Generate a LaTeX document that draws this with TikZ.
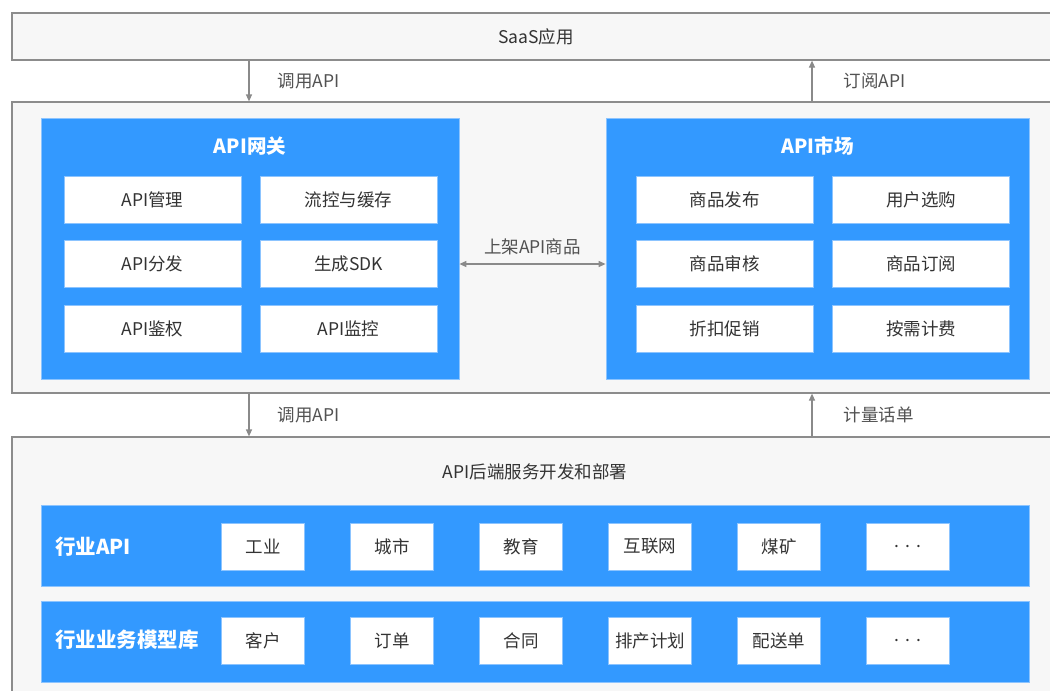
\documentclass[tikz,border=0pt]{standalone}
\usepackage{fontspec}
\setmainfont{Noto Sans CJK SC}
\usepackage{tikz}
\usetikzlibrary{arrows.meta,positioning}

\definecolor{apiblue}{HTML}{3399FF}
\definecolor{edgeblue}{HTML}{8CC4FF}
\definecolor{layerfill}{HTML}{F7F7F7}
\definecolor{layerline}{HTML}{8C8C8C}
\definecolor{arrowgray}{HTML}{8A8A8A}
\definecolor{textgray}{HTML}{333333}

\newcommand{\fsz}[1]{\fontsize{#1}{#1}\selectfont}

\begin{document}
\begin{tikzpicture}[x=1pt,y=-1pt]
    \tikzset{
      layer/.style={draw=layerline,fill=layerfill,line width=1.2pt,minimum width=1048pt,inner sep=0pt},
      bluebox/.style={draw=edgeblue,fill=apiblue,line width=0.8pt,inner sep=0pt},
      cell/.style={draw=edgeblue,fill=white,line width=0.6pt,inner sep=0pt,text=textgray,font=\fsz{17.5}},
      wide cell/.style={cell,minimum width=177pt,minimum height=47pt},
      small cell/.style={cell,minimum width=83pt,minimum height=47pt},
      title/.style={text=white,font=\fsz{19.5}\bfseries,inner sep=0pt},
      flow/.style={draw=arrowgray,line width=1.2pt},
      flowlabel/.style={text=textgray!85,font=\fsz{17.5},inner sep=0pt}
    }
    \clip (0,0) rectangle (1050,691);
    \fill[white] (0,0) rectangle (1050,691);
    % three layers
    \node[layer,minimum height=47pt,text=textgray,font=\fsz{17.5}] (saas) at (536,36.5) {SaaS应用};
    \node[layer,minimum height=291pt] (mid) at (536,247.5) {};
    \node[layer,minimum height=283pt] (back) at (536,578.5) {};
    \node[text=textgray,font=\fsz{17.5},inner sep=0pt] (backtitle) at (535,472) {API后端服务开发和部署};
    % gateway
    \node[bluebox,minimum width=418pt,minimum height=261pt] (gw) at (250,248.5) {};
    \node[title] (gwtitle) at (250,146) {API网关};
    \node[wide cell] (gw1) at (152.5,199.5) {API管理};
    \node[wide cell] (gw2) at (348.5,199.5) {流控与缓存};
    \node[wide cell] (gw3) at (152.5,264) {API分发};
    \node[wide cell] (gw4) at (348.5,264) {生成SDK};
    \node[wide cell] (gw5) at (152.5,328.5) {API鉴权};
    \node[wide cell] (gw6) at (348.5,328.5) {API监控};
    % market
    \node[bluebox,minimum width=423pt,minimum height=261pt] (mk) at (817.5,248.5) {};
    \node[title] (mktitle) at (817.5,146) {API市场};
    \node[wide cell] (mk1) at (724.5,199.5) {商品发布};
    \node[wide cell] (mk2) at (921,199.5) {用户选购};
    \node[wide cell] (mk3) at (724.5,264) {商品审核};
    \node[wide cell] (mk4) at (921,264) {商品订阅};
    \node[wide cell] (mk5) at (724.5,328.5) {折扣促销};
    \node[wide cell] (mk6) at (921,328.5) {按需计费};
    % industry rows
    \node[bluebox,minimum width=988pt,minimum height=81pt] (rowapi) at (535,545.5) {};
    \node[title,font=\fsz{20.5}\bfseries,anchor=west] (rowapilabel) at (55,547) {行业API};
    \node[small cell] (ia1) at (263,546.5) {工业};
    \node[small cell] (ia2) at (392,546.5) {城市};
    \node[small cell] (ia3) at (521,546.5) {教育};
    \node[small cell] (ia4) at (650,546.5) {互联网};
    \node[small cell] (ia5) at (779,546.5) {煤矿};
    \node[small cell] (ia6) at (908,546.5) {.\,\,.\,\,.};
    \node[bluebox,minimum width=988pt,minimum height=81pt] (rowmod) at (535,641.5) {};
    \node[title,font=\fsz{20.5}\bfseries,anchor=west] (rowmodlabel) at (55,640) {行业业务模型库};
    \node[small cell] (im1) at (263,641) {客户};
    \node[small cell] (im2) at (392,641) {订单};
    \node[small cell] (im3) at (521,641) {合同};
    \node[small cell] (im4) at (650,641) {排产计划};
    \node[small cell] (im5) at (779,641) {配送单};
    \node[small cell] (im6) at (908,641) {.\,\,.\,\,.};
    % connectors
    \coordinate (down) at (249,0);
    \coordinate (up) at (812,0);
    \draw[flow,-{Triangle[length=7pt,width=6pt]}] (saas.south -| down) -- (mid.north -| down)
      node[flowlabel,midway,right=28pt] {调用API};
    \draw[flow,-{Triangle[length=7pt,width=6pt]}] (mid.north -| up) -- (saas.south -| up)
      node[flowlabel,midway,right=31pt] {订阅API};
    \draw[flow,-{Triangle[length=7pt,width=6pt]}] (mid.south -| down) -- (back.north -| down)
      node[flowlabel,midway,right=28pt] {调用API};
    \draw[flow,-{Triangle[length=7pt,width=6pt]}] (back.north -| up) -- (mid.south -| up)
      node[flowlabel,midway,right=31pt] {计量话单};
    \draw[flow,{Triangle[length=7pt,width=6pt]}-{Triangle[length=7pt,width=6pt]}] (gw.east |- gw4.center) -- (mk.west |- mk3.center)
      node[flowlabel,midway,above=8pt] {上架API商品};
\end{tikzpicture}
\end{document}
